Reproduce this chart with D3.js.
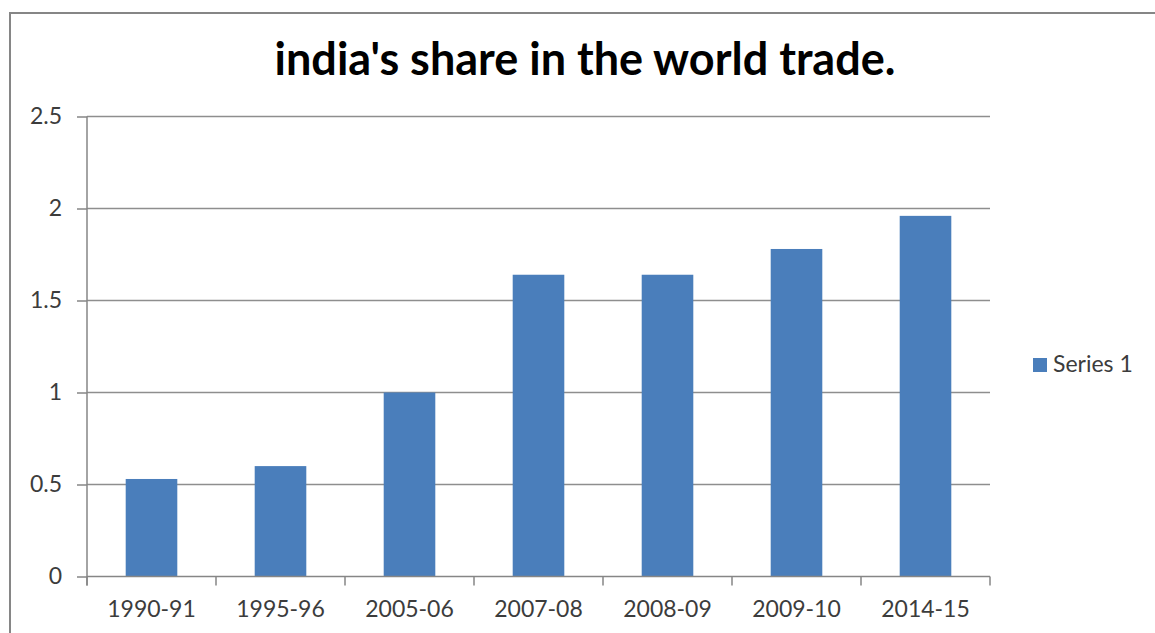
<!DOCTYPE html>
<html>
<head>
<meta charset="utf-8">
<script src="https://cdn.jsdelivr.net/npm/d3@7"></script>
<style>
  html, body { margin: 0; padding: 0; background: #fff; }
  svg { display: block; }
  text { font-family: Lato, "Open Sans", sans-serif; }
</style>
</head>
<body>
<svg id="chart" width="1155" height="633"></svg>
<script>
// India's share in world trade (%)
const categories = ["1990-91", "1995-96", "2005-06", "2007-08", "2008-09", "2009-10", "2014-15"];
const series1 = [0.53, 0.6, 1.0, 1.64, 1.64, 1.78, 1.96];
const yTicks = [0, 0.5, 1, 1.5, 2, 2.5];
const yTickLabels = ["0", "0.5", "1", "1.5", "2", "2.5"];
const seriesName = "Series 1";
const title = "india's share in the world trade.";

const svg = d3.select("#chart");
const W = 1155, H = 633;
const plot = { left: 87, right: 990, top: 116.5, bottom: 576.5 };
const axisColor = "#868686";
const gridColor = "#8e8e8e";
const barColor = "#4a7ebb";
const labelColor = "#3c3c3c";

svg.append("rect").attr("width", W).attr("height", H).attr("fill", "#fff");

// chart frame
svg.append("rect")
  .attr("x", 10).attr("y", 13)
  .attr("width", W + 20).attr("height", H + 20)
  .attr("fill", "none").attr("stroke", axisColor).attr("stroke-width", 2);

const x = d3.scaleBand()
  .domain(categories)
  .range([plot.left, plot.right])
  .paddingInner(0.6)
  .paddingOuter(0.3);

const y = d3.scaleLinear()
  .domain([0, 2.5])
  .range([plot.bottom, plot.top]);

// horizontal gridlines
svg.append("g").selectAll("line")
  .data(yTicks.filter(d => d > 0))
  .join("line")
  .attr("x1", plot.left).attr("x2", plot.right)
  .attr("y1", d => y(d)).attr("y2", d => y(d))
  .attr("stroke", gridColor).attr("stroke-width", 1.5);

// y axis
const yAxis = d3.axisLeft(y)
  .tickValues(yTicks)
  .tickFormat((d, i) => yTickLabels[i])
  .tickSize(10)
  .tickPadding(15);
const gy = svg.append("g")
  .attr("transform", `translate(${plot.left},0)`)
  .call(yAxis);
gy.select(".domain").remove();
gy.selectAll(".tick line").attr("stroke", axisColor).attr("stroke-width", 1.5);
gy.selectAll(".tick text")
  .attr("fill", labelColor)
  .style("font-size", "23px");
gy.append("line")
  .attr("x1", 0).attr("x2", 0)
  .attr("y1", plot.top).attr("y2", plot.bottom + 9)
  .attr("stroke", axisColor).attr("stroke-width", 1.5);

// bars
svg.append("g").selectAll("rect")
  .data(series1)
  .join("rect")
  .attr("x", (d, i) => x(categories[i]))
  .attr("y", d => y(d))
  .attr("width", x.bandwidth())
  .attr("height", d => y(0) - y(d))
  .attr("fill", barColor);

// x axis
const gx = svg.append("g");
gx.append("line")
  .attr("x1", plot.left).attr("x2", plot.right)
  .attr("y1", plot.bottom).attr("y2", plot.bottom)
  .attr("stroke", axisColor).attr("stroke-width", 1.5);
gx.selectAll("line.tick")
  .data(d3.range(categories.length + 1))
  .join("line")
  .attr("class", "tick")
  .attr("x1", i => plot.left + i * x.step())
  .attr("x2", i => plot.left + i * x.step())
  .attr("y1", plot.bottom).attr("y2", plot.bottom + 9)
  .attr("stroke", axisColor).attr("stroke-width", 1.5);
gx.selectAll("text")
  .data(categories)
  .join("text")
  .attr("x", d => x(d) + x.bandwidth() / 2)
  .attr("y", 617)
  .attr("text-anchor", "middle")
  .attr("fill", labelColor)
  .style("font-size", "23px")
  .text(d => d);

// title
svg.append("text")
  .attr("x", 585).attr("y", 75)
  .attr("text-anchor", "middle")
  .attr("fill", "#000")
  .style("font-size", "45px")
  .style("font-weight", "bold")
  .text(title);

// legend
const lg = svg.append("g");
lg.append("rect")
  .attr("x", 1033).attr("y", 358)
  .attr("width", 14).attr("height", 14)
  .attr("fill", barColor);
lg.append("text")
  .attr("x", 1053).attr("y", 372)
  .attr("fill", labelColor)
  .style("font-size", "23px")
  .text(seriesName);
</script>
</body>
</html>
